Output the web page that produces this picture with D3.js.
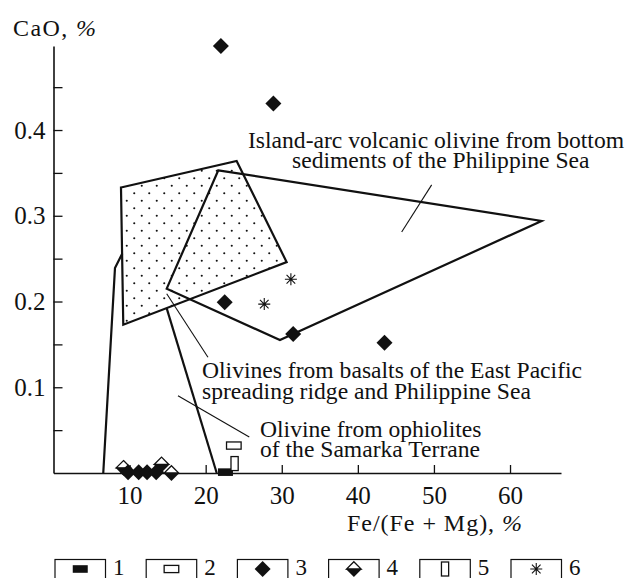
<!DOCTYPE html>
<html>
<head>
<meta charset="utf-8">
<script src="https://cdn.jsdelivr.net/npm/d3@7"></script>
<style>
  html, body { margin: 0; padding: 0; background: #fff; }
  svg { display: block; }
  svg text { font-family: "Liberation Serif", "DejaVu Serif", serif; fill: #111; }
</style>
</head>
<body>
<svg id="chart" width="631" height="578"></svg>
<script>
// Compositional fields (Fe/(Fe+Mg) %, CaO %)
const fieldBasalts = [[8.87, 0.333], [24.07, 0.364], [30.64, 0.246], [9.17, 0.173]];
const fieldIslandArc = [[21.66, 0.353], [64.15, 0.294], [29.76, 0.155], [14.88, 0.215]];
const ophioliteLeft = [[6.54, 0], [8.08, 0.239], [9.04, 0.256]];
const ophioliteRight = [[14.88, 0.192], [21.45, 0]];

// Leader lines from labels to fields
const leaderIslandArc = [[49.7, 0.336], [45.76, 0.281]];
const leaderBasalts = [[14.88, 0.209], [20.3, 0.135]];
const leaderOphiolite = [[16.36, 0.090], [25.73, 0.042]];

// Olivine analyses by sample group
const group1 = [[22.6, 0.001]];
const group2 = [[23.7, 0.032]];
const group3 = [[22.0, 0.498], [28.9, 0.431], [22.5, 0.199], [31.5, 0.162], [43.5, 0.152],
                [9.8, 0.001], [11.2, 0.001], [12.3, 0.001], [13.5, 0.001]];
const group4 = [[9.2, 0.006], [14.2, 0.010], [15.5, 0.0]];
const group5 = [[23.8, 0.011]];
const group6 = [[31.2, 0.226], [27.7, 0.197]];

// Axis ticks
const xTicks = [10, 20, 30, 40, 50, 60];
const yTicks = [0.05, 0.1, 0.15, 0.2, 0.25, 0.3, 0.35, 0.4, 0.45];
const yTickLabels = ["0.1", "0.2", "0.3", "0.4"];
const legendLabels = ["1", "2", "3", "4", "5", "6"];

const svg = d3.select("#chart");
const FONT = 23.6;      // field labels
const AXFONT = 25;      // axis numbers
const SERIF = "'Liberation Serif', 'DejaVu Serif', serif";

const x = d3.scaleLinear().domain([0, 66.7]).range([53.5, 561]);
const y = d3.scaleLinear().domain([0, 0.498]).range([473, 46]);

// Dot pattern for the basalt field
const defs = svg.append("defs");
const pat = defs.append("pattern").attr("id", "dots")
  .attr("patternUnits", "userSpaceOnUse")
  .attr("width", 15).attr("height", 15).attr("x", 3).attr("y", 2);
pat.append("circle").attr("cx", 3.75).attr("cy", 3.75).attr("r", 1.05).attr("fill", "#111");
pat.append("circle").attr("cx", 11.25).attr("cy", 11.25).attr("r", 1.05).attr("fill", "#111");

const line = d3.line().x(d => x(d[0])).y(d => y(d[1]));
const closed = d3.line().x(d => x(d[0])).y(d => y(d[1])).curve(d3.curveLinearClosed);

// Fields
svg.append("path").attr("d", closed(fieldBasalts)).attr("fill", "url(#dots)")
  .attr("stroke", "#111").attr("stroke-width", 2.2).attr("stroke-linejoin", "miter");
svg.append("path").attr("d", closed(fieldIslandArc)).attr("fill", "none")
  .attr("stroke", "#111").attr("stroke-width", 2.2);
[ophioliteLeft, ophioliteRight].forEach(p =>
  svg.append("path").attr("d", line(p)).attr("fill", "none")
    .attr("stroke", "#111").attr("stroke-width", 2.2));

[leaderIslandArc, leaderBasalts, leaderOphiolite].forEach(p =>
  svg.append("path").attr("d", line(p)).attr("fill", "none")
    .attr("stroke", "#111").attr("stroke-width", 1.1));

// Axes
const xAxis = d3.axisBottom(x).tickValues(xTicks).tickSize(-8).tickSizeOuter(0).tickPadding(13)
  .tickFormat(d3.format("d"));
const gx = svg.append("g").attr("transform", "translate(0,473)").call(xAxis);
const yAxis = d3.axisLeft(y).tickValues(yTicks).tickSize(-9).tickSizeOuter(0).tickPadding(8)
  .tickFormat(d => { const s = d3.format(".1f")(d); return yTickLabels.includes(s) && Math.abs(d * 10 - Math.round(d * 10)) < 1e-9 ? s : ""; });
const gy = svg.append("g").attr("transform", "translate(53.5,0)").call(yAxis);
[gx, gy].forEach(g => {
  g.attr("font-family", SERIF).attr("font-size", AXFONT);
  g.select(".domain").attr("stroke", "#111").attr("stroke-width", 1.6);
  g.selectAll(".tick line").attr("stroke", "#111").attr("stroke-width", 1.3);
  g.selectAll(".tick text").attr("fill", "#111");
});

// Axis titles
const yTitle = svg.append("text").attr("x", 13).attr("y", 36).attr("font-size", 24)
  .attr("textLength", 83).attr("lengthAdjust", "spacing");
yTitle.append("tspan").text("CaO, ");
yTitle.append("tspan").attr("font-style", "italic").text("%");
const xTitle = svg.append("text").attr("x", 347).attr("y", 530.5).attr("font-size", 24)
  .attr("textLength", 175).attr("lengthAdjust", "spacing");
xTitle.append("tspan").text("Fe/(Fe + Mg), ");
xTitle.append("tspan").attr("font-style", "italic").text("%");

// Field labels
const labels = [
  { x: 248, y: 148, t: "Island-arc volcanic olivine from bottom" },
  { x: 292, y: 168, t: "sediments of the Philippine Sea" },
  { x: 202, y: 378, t: "Olivines from basalts of the East Pacific" },
  { x: 202, y: 399, t: "spreading ridge and Philippine Sea" },
  { x: 260, y: 436.5, t: "Olivine from ophiolites" },
  { x: 260, y: 457, t: "of the Samarka Terrane" }
];
svg.selectAll("text.lbl").data(labels).join("text").attr("class", "lbl")
  .attr("x", d => d.x).attr("y", d => d.y).attr("font-size", FONT).text(d => d.t);

// Marker symbols
const R = 8;
function drawSymbol(g, type) {
  if (type === 1) {
    g.append("rect").attr("x", -7.5).attr("y", -3.8).attr("width", 15).attr("height", 7.6).attr("fill", "#111");
  } else if (type === 2) {
    g.append("rect").attr("x", -7.3).attr("y", -3.6).attr("width", 14.6).attr("height", 7.2)
      .attr("fill", "#fff").attr("stroke", "#111").attr("stroke-width", 1.3);
  } else if (type === 3) {
    g.append("path").attr("d", `M0,${-R}L${R},0L0,${R}L${-R},0Z`).attr("fill", "#111");
  } else if (type === 4) {
    g.append("path").attr("d", `M0,${-R + 0.7}L${R - 0.7},0L${-R + 0.7},0Z`).attr("fill", "#fff")
      .attr("stroke", "#111").attr("stroke-width", 1.3);
    g.append("path").attr("d", `M${-R},0L${R},0L0,${R}Z`).attr("fill", "#111");
  } else if (type === 5) {
    g.append("rect").attr("x", -3.6).attr("y", -7).attr("width", 7.2).attr("height", 14)
      .attr("fill", "#fff").attr("stroke", "#111").attr("stroke-width", 1.3);
  } else if (type === 6) {
    const a = 6, b = a * 0.72;
    const p = d3.path();
    p.moveTo(0, -a); p.lineTo(0, a);
    p.moveTo(-a, 0); p.lineTo(a, 0);
    p.moveTo(-b, -b); p.lineTo(b, b);
    p.moveTo(-b, b); p.lineTo(b, -b);
    g.append("path").attr("d", p.toString()).attr("stroke", "#111").attr("stroke-width", 1.1).attr("fill", "none");
  }
}

const groups = [[group1, 1], [group2, 2], [group5, 5], [group4, 4], [group3, 3], [group6, 6]];
groups.forEach(([data, type]) => {
  svg.append("g").selectAll("g").data(data).join("g")
    .attr("transform", d => `translate(${x(d[0])},${y(d[1])})`)
    .each(function () { drawSymbol(d3.select(this), type); });
});

// Legend
const legendX = d3.scalePoint().domain(legendLabels).range([55, 511]);
const lg = svg.append("g").selectAll("g").data(legendLabels).join("g")
  .attr("transform", d => `translate(${legendX(d)},559.5)`);
lg.append("rect").attr("width", 50.5).attr("height", 24).attr("fill", "none")
  .attr("stroke", "#111").attr("stroke-width", 1.2);
lg.each(function (d, i) {
  const s = d3.select(this).append("g").attr("transform", "translate(25.25,9.5)");
  drawSymbol(s, i + 1);
});
lg.append("text").attr("x", 58).attr("y", 15.5).attr("font-size", 23).text(d => d);
</script>
</body>
</html>
